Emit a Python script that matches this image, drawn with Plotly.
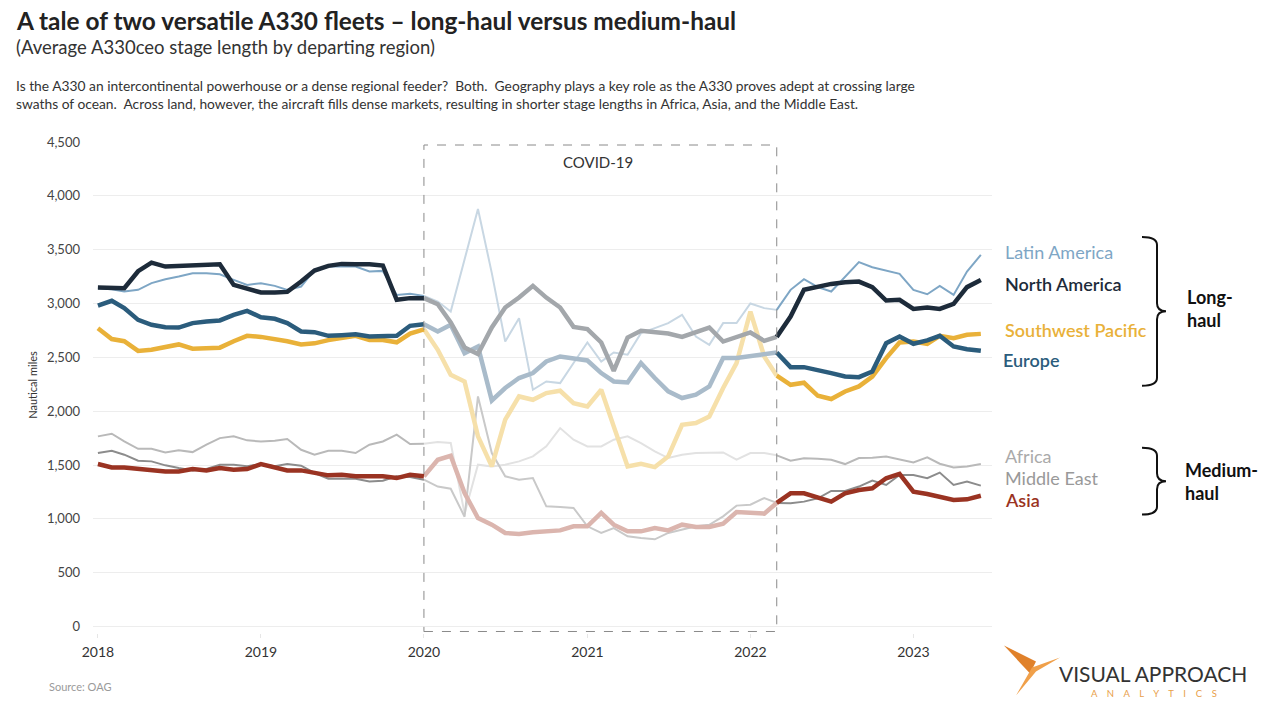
import plotly.graph_objects as go
import pandas as pd

# ---------------- data ----------------
months = pd.date_range("2018-01-01", periods=66, freq="MS")

latin_america = [3142, 3133, 3111, 3127, 3189, 3226, 3250, 3281, 3281, 3272, 3220, 3173, 3189, 3164, 3127, 3158,
                 3313, 3343, 3343, 3343, 3297, 3303, 3080, 3090, 3070,
                 3018, 2925, 3405, 3878, 3282, 2647, 2864, 2199, 2276, 2261, 2447, 2638, 2461, 2545, 2524, 2725,
                 2771, 2818, 2895, 2693, 2616, 2818, 2818, 3000, 2957, 2941,
                 3127, 3226, 3152, 3111, 3250, 3384, 3337, 3306, 3275, 3127, 3086, 3164, 3080, 3297, 3451]
north_america = [3148, 3142, 3142, 3300, 3380, 3343, 3350, 3360, 3365, 3365, 3173, 3133, 3102, 3102, 3108, 3204,
                 3306, 3350, 3368, 3365, 3365, 3353, 3034, 3050, 3050,
                 2993, 2824, 2592, 2530, 2777, 2963, 3055, 3164, 3055, 2963, 2783, 2762, 2638, 2375, 2684, 2746,
                 2731, 2722, 2690, 2731, 2777, 2647, 2684, 2731, 2653, 2690,
                 2879, 3127, 3158, 3182, 3198, 3204, 3152, 3028, 3034, 2950, 2963, 2950, 2997, 3152, 3219]
southwest_pacific = [2770, 2670, 2650, 2560, 2570, 2600, 2620, 2580, 2580, 2590, 2650, 2700, 2690, 2670, 2650, 2620,
                     2630, 2660, 2680, 2700, 2660, 2660, 2640, 2720, 2760,
                     2570, 2338, 2276, 1766, 1487, 1921, 2137, 2106, 2168, 2190, 2075, 2044, 2199, 1859, 1487, 1512,
                     1481, 1580, 1874, 1890, 1951, 2215, 2447, 2925, 2508, 2330,
                     2245, 2264, 2143, 2113, 2183, 2230, 2322, 2493, 2638, 2647, 2626, 2700, 2678, 2709, 2718]
europe = [2981, 3025, 2957, 2848, 2802, 2780, 2777, 2818, 2833, 2843, 2895, 2932, 2873, 2858, 2818, 2740,
          2734, 2700, 2706, 2715, 2694, 2700, 2700, 2793, 2808,
          2740, 2802, 2539, 2601, 2100, 2215, 2308, 2354, 2462, 2508, 2493, 2471, 2354, 2276, 2267, 2447,
          2308, 2184, 2122, 2153, 2230, 2493, 2493, 2508, 2524, 2545,
          2409, 2409, 2384, 2354, 2322, 2316, 2369, 2632, 2693, 2626, 2657, 2700, 2601, 2576, 2561]
africa = [1766, 1791, 1719, 1651, 1651, 1617, 1636, 1620, 1689, 1750, 1766, 1729, 1719, 1726, 1741, 1642,
          1596, 1633, 1633, 1611, 1689, 1719, 1782, 1695, 1698,
          1713, 1704, 1050, 1503, 1487, 1503, 1534, 1580, 1673, 1843, 1735, 1673, 1673, 1735, 1766, 1704,
          1627, 1565, 1596, 1611, 1617, 1617, 1549, 1611, 1611, 1590,
          1540, 1562, 1559, 1549, 1509, 1565, 1568, 1580, 1555, 1524, 1571, 1512, 1478, 1487, 1509]
middle_east = [1611, 1633, 1596, 1540, 1534, 1497, 1472, 1450, 1463, 1503, 1503, 1488, 1509, 1488, 1509, 1494,
               1426, 1373, 1373, 1373, 1348, 1354, 1395, 1388, 1364,
               1300, 1280, 1020, 2137, 1611, 1395, 1364, 1379, 1116, 1110, 1101, 931, 869, 915, 838, 822,
               810, 869, 900, 931, 945, 1023, 1123, 1132, 1194, 1148,
               1144, 1160, 1191, 1259, 1259, 1300, 1355, 1315, 1408, 1408, 1377, 1430, 1315, 1346, 1309]
asia = [1509, 1478, 1478, 1463, 1450, 1441, 1441, 1463, 1450, 1472, 1457, 1463, 1509, 1481, 1450, 1450,
        1426, 1404, 1410, 1395, 1395, 1395, 1379, 1410, 1395,
        1549, 1586, 1240, 1008, 946, 869, 860, 875, 881, 893, 931, 931, 1055, 946, 884, 884,
        915, 893, 946, 924, 924, 955, 1064, 1061, 1049, 1148,
        1237, 1237, 1197, 1160, 1237, 1268, 1284, 1377, 1418, 1253, 1231, 1200, 1175, 1181, 1215]

covid_start, covid_end = "2020-01-01", "2022-03-01"
y_ticks = [0, 500, 1000, 1500, 2000, 2500, 3000, 3500, 4000, 4500]
x_ticks = ["2018-01-01", "2019-01-01", "2020-01-01", "2021-01-01", "2022-01-01", "2023-01-01"]
x_tick_text = ["2018", "2019", "2020", "2021", "2022", "2023"]

# (name, values, normal colour, covid colour, width)
series = [
    ("Africa", africa, "#b9b9b9", "#e2e2e2", 2),
    ("Middle East", middle_east, "#8c8c8c", "#c9c9c9", 2),
    ("Latin America", latin_america, "#7ea6c5", "#c8d7e3", 2),
    ("Asia", asia, "#9a3322", "#dbb5ae", 4.5),
    ("Southwest Pacific", southwest_pacific, "#e9b139", "#f6e0aa", 4.5),
    ("Europe", europe, "#2b5c7c", "#a9bbca", 4.5),
    ("North America", north_america, "#1d2b3a", "#a3a7ab", 4.5),
]

FONT = "Lato, 'Open Sans', sans-serif"
W, H = 1280, 720
L, R, T, B = 93, 992, 142, 633.5


def px(x):
    return (x - L) / (R - L)


def py(y):
    return (B - y) / (B - T)


fig = go.Figure()
i0 = list(months).index(pd.Timestamp(covid_start))
i1 = list(months).index(pd.Timestamp(covid_end))

# covid (faded) segments first
for name, vals, col, fcol, w in series:
    fig.add_trace(go.Scatter(x=months[i0:i1 + 1], y=vals[i0:i1 + 1], mode="lines",
                             line=dict(color=fcol, width=w), hoverinfo="skip", showlegend=False))
# normal segments
for name, vals, col, fcol, w in series:
    for a, b in [(0, i0 + 1), (i1, len(vals))]:
        fig.add_trace(go.Scatter(x=months[a:b], y=vals[a:b], mode="lines",
                                 line=dict(color=col, width=w), name=name, showlegend=False))

# covid box
fig.add_shape(type="rect", xref="x", yref="y", x0=covid_start, x1=covid_end, y0=-46, y1=4472,
              line=dict(color="#8a8a8a", width=1, dash="dash"), fillcolor="rgba(0,0,0,0)", layer="above")
fig.add_annotation(xref="paper", yref="paper", x=px(598), y=py(162), text="COVID-19", showarrow=False,
                   font=dict(family=FONT, size=15, color="#333"), xanchor="center", yanchor="middle")


def txt(x, y, s, size, color, weight="normal", xa="left", align="left"):
    fig.add_annotation(xref="paper", yref="paper", x=px(x), y=py(y), text=s, showarrow=False,
                       font=dict(family=FONT, size=size, color=color, weight=weight),
                       xanchor=xa, yanchor="middle", align=align)


txt(14, 20, "A tale of two versatile A330 fleets – long-haul versus medium-haul", 24.4, "#222", "bold")
txt(14, 47, "(Average A330ceo stage length by departing region)", 18.5, "#333")
txt(14, 94, "Is the A330 an intercontinental powerhouse or a dense regional feeder?  Both.  Geography plays a key role as the A330 proves adept at crossing large<br>"
            "swaths of ocean.  Across land, however, the aircraft fills dense markets, resulting in shorter stage lengths in Africa, Asia, and the Middle East.",
    13.8, "#333")
txt(47, 687, "Source: OAG", 11, "#9a9a9a")

# end labels
txt(1003, 252, "Latin America", 18, "#7ea6c5")
txt(1003, 284, "North America", 18, "#1d2b3a", 600)
txt(1003, 330, "Southwest Pacific", 18, "#e9b139", 600)
txt(1001, 360, "Europe", 18, "#2b5c7c", 600)
txt(1003, 456, "Africa", 18, "#aaaaaa")
txt(1003, 478, "Middle East", 18, "#999999")
txt(1003, 500, "Asia", 18, "#9a3322", 600)

txt(1185, 309, "Long-<br>haul", 18, "#111", "bold")
txt(1183, 482, "Medium-<br>haul", 18, "#111", "bold")


def brace(top, bot, x0=1142, xv=1157, xt=1166):
    mid = (top + bot) / 2
    pts = [
        f"M {px(x0)},{py(top)}",
        f"Q {px(xv)},{py(top)} {px(xv)},{py(top + 8)}",
        f"L {px(xv)},{py(mid - 8)}",
        f"Q {px(xv)},{py(mid)} {px(xt)},{py(mid)}",
        f"Q {px(xv)},{py(mid)} {px(xv)},{py(mid + 8)}",
        f"L {px(xv)},{py(bot - 8)}",
        f"Q {px(xv)},{py(bot)} {px(x0)},{py(bot)}",
    ]
    fig.add_shape(type="path", xref="paper", yref="paper", path=" ".join(pts),
                  line=dict(color="#111", width=2))


brace(237, 386)
brace(448, 515)

# logo
fig.add_shape(type="path", xref="paper", yref="paper",
              path=f"M {px(1004)},{py(646)} L {px(1036)},{py(662)} L {px(1030)},{py(674)} Z",
              fillcolor="#e0812a", line=dict(width=0))
fig.add_shape(type="path", xref="paper", yref="paper",
              path=f"M {px(1060)},{py(658)} L {px(1032)},{py(668)} L {px(1016)},{py(696)} L {px(1036)},{py(672)} Z",
              fillcolor="#f0a04a", line=dict(width=0))
txt(1057, 674.5, "VISUAL APPROACH", 21, "#333")
sp = "&nbsp;" * 4
txt(1154, 694, sp.join("ANALYTICS"), 9.5, "#e8a04a", xa="center", align="center")

fig.add_annotation(xref="paper", yref="paper", x=px(33), y=py(385), text="Nautical miles", textangle=-90,
                   showarrow=False, font=dict(family=FONT, size=11, color="#333"),
                   xanchor="center", yanchor="middle")

fig.update_layout(
    width=W, height=H, autosize=False,
    margin=dict(l=L, r=W - R, t=T, b=H - B, pad=0),
    plot_bgcolor="white", paper_bgcolor="white",
    showlegend=False,
    font=dict(family=FONT, color="#444"),
    xaxis=dict(range=["2017-12-21", "2023-06-26"], tickvals=x_ticks, ticktext=x_tick_text,
               showgrid=False, zeroline=False, showline=False, ticks="outside", ticklen=4,
               tickcolor="#e6e6e6", tickfont=dict(family=FONT, size=14, color="#333"),
               ticklabelstandoff=2),
    yaxis=dict(range=[-60, 4500], tickvals=y_ticks, tickformat=",", showgrid=True,
               gridcolor="#ededed", gridwidth=1, zeroline=False, showline=False,
               tickfont=dict(family=FONT, size=13, color="#444"), ticklabelstandoff=12),
)

fig.write_html("out.html", config={"displayModeBar": False},
               post_script="document.body.style.margin='0';")
